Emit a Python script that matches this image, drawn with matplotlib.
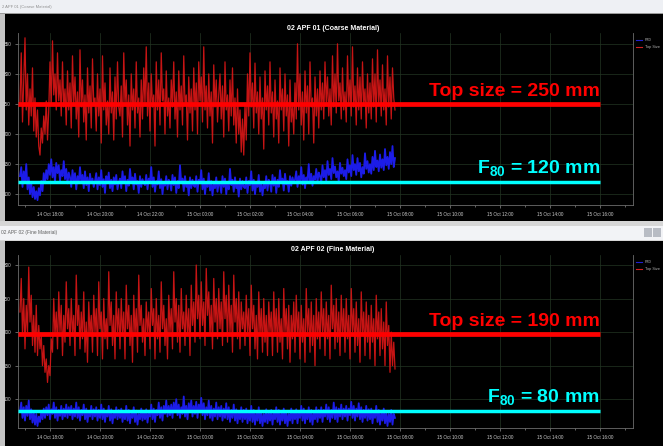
import numpy as np
import matplotlib
matplotlib.use('Agg')
import matplotlib.pyplot as plt
from matplotlib.patches import Rectangle
from matplotlib.lines import Line2D

plt.rcParams['font.family'] = ['Liberation Sans', 'DejaVu Sans']
plt.rcParams['mathtext.fontset'] = 'custom'
plt.rcParams['mathtext.rm'] = 'Liberation Sans:bold'
plt.rcParams['mathtext.bf'] = 'Liberation Sans:bold'
plt.rcParams['mathtext.it'] = 'Liberation Sans:bold'
plt.rcParams['mathtext.default'] = 'bf'

# ---------------- data ----------------
t_start = 16.8      # hours since 14 Oct 00:00
t_step = 0.05       # hours between samples

coarse_top = [
    250, 335, 220, 290, 360, 240, 300, 215, 275, 230, 310, 205, 260, 195, 240, 180, 165, 210, 185, 230,
    200, 255, 190, 240, 320, 250, 355, 265, 300, 240, 335, 255, 290, 230, 320, 245, 275, 215, 305, 240,
    285, 210, 330, 250, 295, 225, 270, 195, 340, 245, 290, 220, 265, 190, 310, 235, 280, 210, 325, 250,
    260, 205, 300, 230, 275, 185, 330, 240, 285, 215, 255, 200, 310, 235, 270, 190, 295, 225, 320, 245,
    230, 280, 195, 335, 250, 290, 215, 265, 180, 300, 240, 275, 210, 320, 235, 260, 195, 290, 225, 310,
    250, 345, 230, 285, 205, 300, 245, 265, 180, 320, 240, 290, 215, 335, 255, 275, 200, 305, 230, 260,
    210, 290, 245, 320, 225, 270, 195, 305, 240, 280, 215, 330, 250, 265, 190, 295, 235, 275, 205, 310,
    240, 285, 200, 320, 255, 295, 220, 345, 240, 280, 210, 300, 230, 270, 185, 315, 245, 290, 220, 265,
    300, 225, 280, 195, 320, 240, 265, 205, 290, 230, 310, 215, 260, 185, 275, 200, 240, 170, 225, 165,
    250, 190, 300, 230, 335, 245, 285, 210, 318, 235, 270, 200, 295, 225, 260, 175, 305, 240, 280, 215,
    320, 235, 270, 195, 290, 225, 255, 185, 310, 240, 275, 205, 300, 230, 265, 180, 290, 220, 250, 200,
    285, 225, 350, 240, 300, 215, 270, 190, 305, 235, 280, 200, 320, 245, 260, 185, 295, 230, 275, 210,
    305, 240, 285, 225, 320, 250, 295, 230, 275, 215, 330, 245, 300, 235, 350, 255, 285, 225, 310, 240,
    270, 220, 330, 250, 290, 230, 345, 245, 280, 215, 310, 240, 295, 225, 320, 250, 275, 210, 300, 235,
    285, 225, 325, 245, 300, 220, 340, 250, 290, 230, 315, 240, 275, 215, 330, 245, 295, 225, 310, 260,
    240]

coarse_p80 = [
    130, 145, 112, 138, 120, 150, 108, 128, 100, 118, 95, 112, 92, 105, 90, 110, 98, 122, 105, 135,
    118, 140, 125, 150, 132, 158, 128, 145, 120, 152, 135, 148, 122, 140, 130, 155, 125, 142, 118, 136,
    128, 112, 140, 122, 135, 108, 130, 118, 145, 120, 132, 110, 138, 115, 128, 105, 134, 118, 126, 112,
    122, 135, 108, 128, 115, 140, 112, 125, 102, 130, 118, 136, 110, 124, 105, 128, 116, 132, 108, 120,
    126, 110, 138, 118, 130, 105, 124, 114, 142, 120, 128, 108, 134, 116, 122, 102, 130, 112, 125, 118,
    115, 132, 108, 126, 120, 145, 112, 128, 104, 122, 116, 138, 110, 125, 100, 120, 114, 130, 108, 124,
    118, 106, 132, 115, 128, 102, 122, 110, 148, 118, 126, 105, 130, 112, 120, 98, 128, 110, 124, 114,
    112, 130, 104, 124, 118, 140, 108, 126, 100, 120, 112, 135, 106, 122, 98, 118, 110, 128, 104, 120,
    116, 102, 130, 112, 126, 100, 120, 108, 142, 115, 124, 104, 128, 110, 118, 96, 126, 108, 122, 112,
    110, 128, 102, 122, 115, 138, 106, 124, 100, 118, 112, 132, 104, 120, 98, 116, 110, 130, 106, 124,
    118, 104, 132, 114, 128, 102, 124, 112, 140, 118, 126, 106, 134, 116, 122, 104, 130, 114, 128, 120,
    124, 138, 112, 130, 120, 145, 116, 132, 110, 128, 122, 150, 118, 134, 114, 130, 124, 142, 120, 136,
    130, 118, 148, 128, 140, 122, 155, 132, 142, 125, 160, 135, 146, 128, 138, 120, 152, 134, 144, 130,
    140, 125, 158, 136, 148, 130, 165, 140, 150, 132, 160, 138, 152, 128, 145, 134, 168, 142, 155, 136,
    150, 134, 162, 140, 172, 145, 156, 138, 166, 144, 158, 140, 175, 148, 162, 142, 170, 150, 180, 145,
    160]

fine_top = [
    230, 280, 195, 250, 175, 240, 200, 297, 215, 255, 180, 225, 170, 240, 165, 210, 175, 195, 150, 180,
    140, 160, 125, 150, 135, 190, 170, 250, 195, 230, 175, 260, 200, 240, 165, 225, 185, 275, 205, 235,
    180, 250, 195, 225, 165, 285, 210, 240, 175, 230, 190, 260, 170, 215, 155, 245, 195, 225, 170, 255,
    200, 235, 165, 275, 205, 230, 160, 250, 190, 220, 175, 290, 210, 245, 180, 225, 160, 260, 200, 235,
    175, 250, 195, 230, 160, 270, 205, 240, 180, 225, 155, 255, 195, 235, 170, 285, 210, 240, 185, 220,
    165, 245, 200, 230, 175, 265, 210, 235, 160, 250, 190, 225, 170, 275, 205, 240, 180, 220, 160, 255,
    200, 235, 175, 290, 215, 250, 185, 240, 170, 265, 205, 230, 180, 255, 195, 235, 165, 270, 210, 245,
    185, 300, 220, 255, 190, 275, 210, 245, 180, 295, 225, 260, 195, 240, 175, 280, 215, 250, 190, 265,
    205, 245, 180, 290, 220, 255, 185, 270, 200, 240, 170, 285, 215, 250, 190, 260, 175, 245, 205, 230,
    180, 255, 200, 235, 165, 270, 205, 240, 175, 225, 160, 260, 195, 235, 170, 250, 185, 225, 165, 245,
    200, 230, 165, 260, 195, 235, 170, 250, 185, 220, 160, 265, 200, 235, 175, 240, 155, 225, 190, 245,
    170, 255, 195, 230, 160, 240, 185, 220, 155, 265, 200, 235, 170, 245, 180, 225, 150, 250, 190, 230,
    175, 260, 200, 235, 165, 245, 190, 225, 160, 270, 205, 240, 175, 250, 185, 230, 165, 255, 195, 235,
    170, 250, 190, 225, 160, 265, 200, 235, 170, 245, 180, 220, 155, 260, 195, 230, 165, 245, 185, 225,
    160, 240, 185, 220, 150, 255, 190, 230, 165, 235, 175, 215, 150, 245, 180, 210, 140, 200, 150, 185,
    145]

fine_p80 = [
    82, 95, 72, 88, 68, 90, 75, 98, 70, 85, 65, 80, 62, 78, 60, 74, 66, 82, 70, 86,
    72, 88, 76, 92, 70, 85, 78, 95, 72, 88, 68, 84, 75, 90, 70, 86, 74, 92, 72, 88,
    76, 90, 70, 86, 74, 95, 72, 88, 68, 84, 76, 92, 70, 86, 66, 82, 74, 90, 70, 85,
    74, 88, 68, 84, 72, 92, 70, 86, 66, 82, 74, 90, 68, 85, 64, 80, 72, 88, 70, 84,
    72, 86, 66, 82, 70, 90, 68, 84, 64, 80, 72, 88, 66, 83, 62, 78, 70, 86, 68, 82,
    70, 85, 65, 80, 74, 92, 70, 86, 66, 84, 76, 95, 72, 88, 68, 90, 78, 98, 74, 90,
    76, 92, 72, 95, 80, 100, 76, 92, 72, 88, 78, 104, 74, 90, 70, 94, 80, 98, 74, 90,
    78, 96, 72, 92, 80, 102, 76, 94, 70, 88, 76, 98, 72, 90, 68, 86, 74, 95, 70, 88,
    74, 90, 68, 86, 72, 94, 70, 88, 66, 84, 72, 92, 68, 85, 64, 82, 70, 88, 66, 84,
    70, 86, 64, 82, 68, 90, 66, 84, 62, 80, 68, 88, 64, 82, 60, 78, 66, 85, 64, 80,
    68, 84, 62, 80, 70, 88, 66, 84, 62, 80, 68, 86, 64, 82, 60, 78, 68, 86, 64, 82,
    70, 85, 64, 82, 72, 90, 68, 86, 64, 82, 70, 88, 66, 84, 62, 80, 70, 88, 66, 84,
    72, 88, 66, 84, 74, 92, 70, 88, 66, 84, 72, 95, 70, 88, 66, 86, 74, 92, 70, 86,
    74, 90, 68, 86, 76, 96, 72, 90, 68, 86, 74, 94, 70, 88, 66, 84, 72, 90, 68, 85,
    70, 86, 64, 82, 72, 90, 66, 84, 62, 80, 68, 86, 64, 80, 60, 78, 66, 84, 62, 78,
    72]

tick_hours = [18, 20, 22, 24, 26, 28, 30, 32, 34, 36, 38, 40]
tick_labels = ['14 Oct 18:00', '14 Oct 20:00', '14 Oct 22:00', '15 Oct 00:00',
               '15 Oct 02:00', '15 Oct 04:00', '15 Oct 06:00', '15 Oct 08:00',
               '15 Oct 10:00', '15 Oct 12:00', '15 Oct 14:00', '15 Oct 16:00']

panel_titles = ['02 APF 01 (Coarse Material)', '02 APF 02 (Fine Material)']
top_size_values = [250, 190]
top_size_line = [250, 197]
f80_values = [120, 80]
f80_line = [120, 82]
y_ticks = [[100, 150, 200, 250, 300, 350], [100, 150, 200, 250, 300]]
y_limits = [(82, 368), (57, 315)]

# ---------------- figure ----------------
W, H = 663, 446
fig = plt.figure(figsize=(W / 100, H / 100), dpi=100)
fig.patch.set_facecolor('#c4c4c4')


def rect(x0, y0, x1, y1, color, z=0):
    fig.add_artist(Rectangle((x0 / W, 1 - y1 / H), (x1 - x0) / W, (y1 - y0) / H,
                             transform=fig.transFigure, facecolor=color,
                             edgecolor='none', zorder=z))


# window chrome
rect(0, 0, W, 14, '#eef0f4')
rect(0, 13, W, 14, '#9a9a9a')
rect(5, 14, W, 221, '#000000')
rect(0, 221, W, 241, '#d6d6d6')
rect(0, 226, W, 240, '#f2f3f6')
rect(5, 241, W, H, '#000000')
rect(644, 228, 652, 237, '#b8bcc4')
rect(653, 228, 661, 237, '#b8bcc4')
fig.text(2 / W, 1 - 7 / H, '2 APF 01 (Coarse Material)', fontsize=3, color='#909090',
         va='center', ha='left')
fig.text(1 / W, 1 - 233 / H, '02 APF 02 (Fine Material)', fontsize=3.5, color='#606060',
         va='center', ha='left')

t = t_start + t_step * np.arange(len(coarse_top))

axes_px = [(33, 205), (255, 428)]
series = [(coarse_top, coarse_p80), (fine_top, fine_p80)]
title_y = [28, 250]
legend_y = [40, 262]

for i in range(2):
    y0, y1 = axes_px[i]
    ax = fig.add_axes([18 / W, 1 - y1 / H, (633 - 18) / W, (y1 - y0) / H])
    ax.set_facecolor('black')
    red, blue = series[i]
    ax.plot(t, red, color='#d81616', lw=0.9, alpha=0.92, zorder=3)
    ax.plot(t, blue, color='#1c1ce8', lw=1.3, zorder=3)
    ax.set_xlim(16.72, 41.32)
    ax.set_ylim(*y_limits[i])
    ax.set_xticks(tick_hours)
    ax.set_xticklabels(tick_labels)
    ax.set_xticks(np.arange(17, 42, 1), minor=True)
    ax.set_yticks(y_ticks[i])
    ax.tick_params(axis='both', which='both', colors='#8a8a8a', labelcolor='#cccccc',
                   labelsize=3.3, length=2, width=0.5, pad=3)
    ax.tick_params(axis='x', which='minor', length=1.5)
    ax.grid(True, which='major', color='#233623', lw=0.5)
    for s in ax.spines.values():
        s.set_color('#6c6c6c')
        s.set_linewidth(0.6)
    ax.spines['top'].set_visible(False)

    # reference lines and annotations
    ax.hlines(top_size_line[i], 16.72, 40.0, color='#ff0000', lw=3.4, zorder=5)
    ax.hlines(f80_line[i], 16.72, 40.0, color='#00ffff', lw=2.5, zorder=5)
    ax.annotate('Top size = %d mm' % top_size_values[i], xy=(40.0, top_size_line[i]),
                xytext=(0, 3), textcoords='offset points', ha='right', va='bottom',
                color='#ff0000', fontsize=14, fontweight='bold', zorder=6)
    ax.annotate(r'F$_{80}$ = %d mm' % f80_values[i], xy=(40.0, f80_line[i]),
                xytext=(0, 3), textcoords='offset points', ha='right', va='bottom',
                color='#00ffff', fontsize=14, fontweight='bold', zorder=6)

    fig.text(333 / W, 1 - title_y[i] / H, panel_titles[i], fontsize=5, color='white',
             fontweight='bold', ha='center', va='center')

    # legend
    ly = legend_y[i]
    fig.add_artist(Line2D([636 / W, 642 / W], [1 - ly / H] * 2, color='#2020d0', lw=0.8,
                          transform=fig.transFigure))
    fig.text(645 / W, 1 - ly / H, 'P80', fontsize=2.8, color='#b0b0b0', va='center')
    fig.add_artist(Line2D([636 / W, 642 / W], [1 - (ly + 7) / H] * 2, color='#d02020', lw=0.8,
                          transform=fig.transFigure))
    fig.text(645 / W, 1 - (ly + 7) / H, 'Top Size', fontsize=2.8, color='#b0b0b0', va='center')

fig.savefig('out.png', dpi=100, facecolor=fig.get_facecolor())
